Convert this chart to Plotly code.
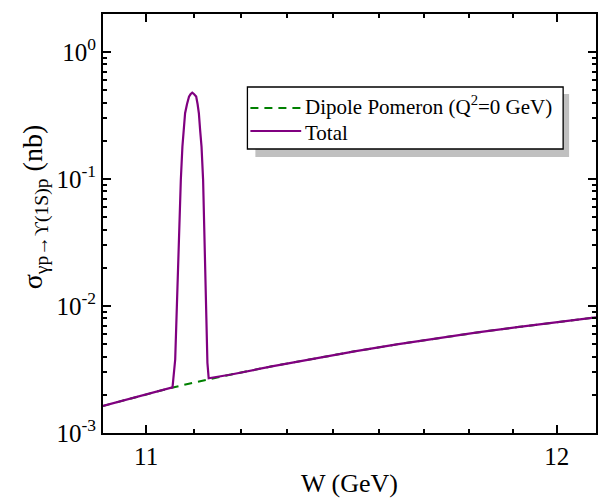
import plotly.graph_objects as go

# Dipole Pomeron (Q^2 = 0) cross section, W in GeV, sigma in nb
w_dipole = [10.90, 10.95, 11.00, 11.05, 11.10, 11.15, 11.20, 11.30, 11.40,
            11.50, 11.60, 11.70, 11.80, 11.90, 12.00, 12.10]
sigma_dipole = [1.633e-3, 1.816e-3, 2.018e-3, 2.228e-3, 2.443e-3, 2.667e-3,
                2.891e-3, 3.365e-3, 3.873e-3, 4.416e-3, 4.989e-3, 5.585e-3,
                6.194e-3, 6.823e-3, 7.464e-3, 8.147e-3]

# Total (dipole + resonance peak)
w_total = [10.90, 10.95, 11.00, 11.05, 11.0617, 11.0680, 11.0710, 11.0756,
           11.0812, 11.0849, 11.0880, 11.0912, 11.0958, 11.1004, 11.1039,
           11.1081, 11.1120, 11.1173, 11.1206, 11.1236, 11.1266, 11.1299,
           11.1336, 11.1375, 11.1415, 11.1438, 11.1468, 11.20, 11.30, 11.40,
           11.50, 11.60, 11.70, 11.80, 11.90, 12.00, 12.10]
sigma_total = [1.633e-3, 1.816e-3, 2.018e-3, 2.228e-3, 2.29e-3, 3.79e-3,
               8.83e-3, 2.94e-2, 9.86e-2, 0.180, 0.243, 0.330, 0.390, 0.446,
               0.465, 0.479, 0.468, 0.446, 0.390, 0.330, 0.243, 0.180,
               0.0986, 0.0294, 0.00883, 3.57e-3, 2.70e-3, 2.891e-3, 3.365e-3,
               3.873e-3, 4.416e-3, 4.989e-3, 5.585e-3, 6.194e-3, 6.823e-3,
               7.464e-3, 8.147e-3]

series_names = ["Dipole Pomeron (Q<sup>2</sup>=0 GeV)", "Total"]
series_colors = ["#008000", "#800080"]
series_dash = ["8px,6px", "solid"]

x_major = [11, 12]
x_major_text = ["11", "12"]
x_minor = [11 + k / 9 for k in range(1, 9)]
y_major = [1e-3, 1e-2, 1e-1, 1e0]
y_major_text = ["10<sup>-3</sup>", "10<sup>-2</sup>", "10<sup>-1</sup>", "10<sup>0</sup>"]
y_minor = [m * 10.0 ** e for e in (-3, -2, -1, 0) for m in range(2, 10) if m * 10.0 ** e < 1.99]

FONT = "Liberation Serif, Times New Roman, serif"

fig = go.Figure()
fig.add_trace(go.Scatter(x=w_dipole, y=sigma_dipole, mode="lines",
                         name=series_names[0], showlegend=False,
                         line=dict(color=series_colors[0], width=2, dash=series_dash[0])))
fig.add_trace(go.Scatter(x=w_total, y=sigma_total, mode="lines", name=series_names[1],
                         showlegend=False,
                         line=dict(color=series_colors[1], width=2.2)))

L, R, T, B = 103, 2, 14, 65
W_, H_ = 600, 498
pw, ph = W_ - L - R, H_ - T - B

def px(x):
    return (x - L) / pw

def py(y):
    return (H_ - B - y) / ph

# Legend box with drop shadow
fig.add_shape(type="rect", xref="paper", yref="paper",
              x0=px(256), x1=px(571), y0=py(157), y1=py(94),
              fillcolor="#c0c0c0", line=dict(width=0), layer="above")
fig.add_shape(type="rect", xref="paper", yref="paper",
              x0=px(248), x1=px(565), y0=py(149), y1=py(87),
              fillcolor="white", line=dict(color="black", width=1.3), layer="above")
legend_rows = [108, 131]
legend_anchor = ["bottom", "top"]
for name, color, dash, ry, anc in zip(series_names, series_colors, series_dash,
                                      legend_rows, legend_anchor):
    fig.add_shape(type="line", xref="paper", yref="paper",
                  x0=px(251), x1=px(302), y0=py(ry), y1=py(ry),
                  line=dict(color=color, width=2.2, dash=dash), layer="above")
    fig.add_annotation(xref="paper", yref="paper", x=px(305), y=py(120),
                       xanchor="left", yanchor=anc, showarrow=False, borderpad=0,
                       text=name, font=dict(family=FONT, size=21, color="black"))

# Y axis title
fig.add_annotation(xref="paper", yref="paper", x=px(35), y=py(207),
                   xanchor="center", yanchor="middle", showarrow=False, textangle=-90,
                   text="σ<sub>γp→ϒ(1S)p</sub> (nb)",
                   font=dict(family=FONT, size=28, color="black"))

axis_common = dict(showline=True, linecolor="black", linewidth=2, mirror="allticks",
                   ticks="inside", ticklen=8, tickwidth=1.5, tickcolor="black",
                   showgrid=False, zeroline=False,
                   tickfont=dict(family=FONT, size=25, color="black"),
                   title_font=dict(family=FONT, size=26, color="black"))

fig.update_xaxes(type="log", range=[1.037426, 1.082785],
                 tickvals=x_major, ticktext=x_major_text,
                 minor=dict(tickvals=x_minor, ticks="inside", ticklen=4,
                            tickwidth=1.5, tickcolor="black", showgrid=False),
                 title=dict(text="W (GeV)", standoff=8), **axis_common)
fig.update_yaxes(type="log", range=[-3, 0.3],
                 tickvals=y_major, ticktext=y_major_text,
                 minor=dict(tickvals=y_minor, ticks="inside", ticklen=4,
                            tickwidth=1.5, tickcolor="black", showgrid=False),
                 **axis_common)

fig.update_layout(
    width=W_, height=H_,
    margin=dict(l=L, r=R, t=T, b=B),
    paper_bgcolor="white", plot_bgcolor="white",
    font=dict(family=FONT, color="black"),
    showlegend=False,
)

fig.write_html("out.html")
